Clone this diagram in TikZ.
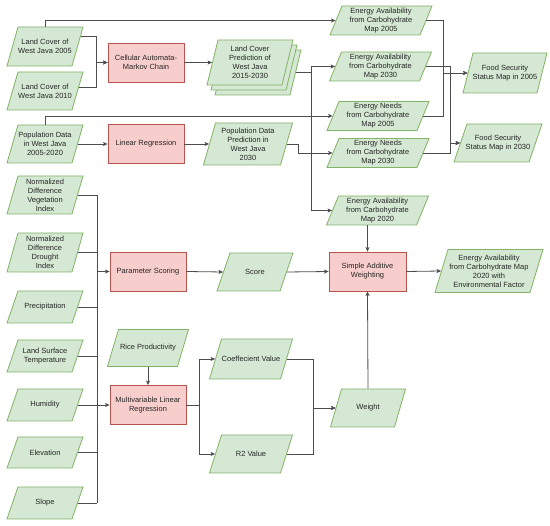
\documentclass[tikz,border=0pt]{standalone}
\usepackage{fontspec}
\setmainfont{Liberation Sans}
\usetikzlibrary{arrows.meta,calc}
\definecolor{gfill}{HTML}{D5E8D4}
\definecolor{gline}{HTML}{82B366}
\definecolor{rfill}{HTML}{F8CECC}
\definecolor{rline}{HTML}{B85450}
\definecolor{lcol}{HTML}{4D4D4D}
\definecolor{tcol}{HTML}{262626}
\tikzset{
  base/.style={font=\fontsize{7.5}{9}\selectfont, text=tcol, align=center, line width=0.8pt},
  pshape/.style={fill=gfill, draw=gline, line width=0.8pt, line join=miter},
  ptext/.style={base, rectangle, inner sep=0pt},
  proc/.style={base, rectangle, fill=rfill, draw=rline, minimum width=76pt, minimum height=39pt, inner sep=1pt},
  ln/.style={draw=lcol, line width=0.8pt},
  arr/.style={ln, -{Stealth[length=4.5pt,width=4pt,inset=1pt]}}
}
% #1 slant, #2 name, #3 cx, #4 cy, #5 width, #6 height, #7 text
\newcommand\parashape[7][11]{%
  \filldraw[pshape] ({#3-#5/2+#1},{#4-#6/2}) -- ({#3+#5/2},{#4-#6/2}) -- ({#3+#5/2-#1},{#4+#6/2}) -- ({#3-#5/2},{#4+#6/2}) -- cycle;
  \node[ptext, minimum width={#5pt-#1pt}, minimum height=#6pt] (#2) at (#3,#4) {#7};
}
\begin{document}
\begin{tikzpicture}[x=1pt,y=-1pt]
\useasboundingbox[fill=white] (0,0) rectangle (550,526);

% left inputs
\parashape{lc05}{45}{46.5}{76}{39}{Land Cover of\\West Java 2005}
\parashape{lc10}{45}{91}{76}{38}{Land Cover of\\West Java 2010}
\parashape{pop}{45}{144}{76}{38}{Population Data\\in West Java\\2005-2020}
\parashape{ndvi}{45}{195}{76}{38}{Normalized\\Difference\\Vegetation\\Index}
\parashape{nddi}{45}{252.5}{76}{39}{Normalized\\Difference\\Drought\\Index}
\parashape{prec}{45}{307}{76}{32}{Precipitation}
\parashape{lst}{45}{356}{76}{32}{Land Surface\\Temperature}
\parashape{hum}{45}{405}{76}{32}{Humidity}
\parashape{elev}{45}{452.5}{76}{31}{Elevation}
\parashape{slope}{45}{503}{76}{32}{Slope}

% processes
\node[proc] (ca) at (146,62.5) {Cellular Automata-\\Markov Chain};
\node[proc] (lr) at (146,144) {Linear Regression};
\node[proc] (ps) at (148,271.5) {Parameter Scoring};
\node[proc] (mlr) at (148,405) {Multivariable Linear\\Regression};
\node[proc,minimum width=77pt] (saw) at (367.5,271.5) {Simple Additive\\Weighting};

% middle column
\parashape{lcp3}{258}{72.5}{86}{45}{}
\parashape{lcp2}{254}{67.5}{86}{45}{}
\parashape{lcp}{250}{62.5}{86}{45}{Land Cover\\Prediction of\\West Java\\2015-2030}
\parashape[12]{pdp}{248}{144}{89}{42}{Population Data\\Prediction in\\West Java\\2030}
\parashape[13]{score}{255}{272}{76}{38}{Score}
\parashape{rice}{148}{348}{81}{37}{Rice Productivity}
\parashape[12]{coef}{251}{359}{83}{40}{Coeffecient Value}
\parashape[12]{r2}{251}{454}{83}{38}{R2 Value}
\parashape{weight}{368}{408}{75}{38}{Weight}

% right column
\parashape[12]{ea05}{381}{20.5}{102}{29}{Energy Availability\\from Carbohydrate\\Map 2005}
\parashape[12]{ea30}{380.5}{66.5}{102}{29}{Energy Availability\\from Carbohydrate\\Map 2030}
\parashape[12]{en05}{378}{116}{102}{29}{Energy Needs\\from Carbohydrate\\Map 2005}
\parashape[12]{en30}{378}{153}{102}{29}{Energy Needs\\from Carbohydrate\\Map 2030}
\parashape[12]{ea20}{377.5}{210.5}{102}{29}{Energy Availability\\from Carbohydrate\\Map 2020}
\parashape[10]{fs05}{505}{73}{84}{40}{Food Security\\Status Map in 2005}
\parashape[13]{fs30}{498}{143}{88}{38}{Food Security\\Status Map in 2030}
\parashape[13]{fin}{489}{271}{108}{43}{Energy Availability\\from Carbohydrate Map\\2020 with\\Environmental Factor}

% bus coordinates
\coordinate (b0) at (96,0);
\coordinate (b1) at (311,0);
\coordinate (b2) at (298,0);
\coordinate (b3) at (443,0);
\coordinate (b4) at (450,0);
\coordinate (b5) at (97,0);
\coordinate (b6) at (199,0);
\coordinate (b7) at (313,0);
\coordinate (lc05o) at ($(lc05.north east)!0.25!(lc05.south east)+(2.75,0)$);
\coordinate (lc10o) at ($(lc10.north east)!0.42!(lc10.south east)+(0.9,0)$);

% connectors
\draw[arr] (lc05o) -- (lc05o -| b0) |- (ca.west);
\draw[arr] (lc10o) -- (lc10o -| b0) |- (ca.west);
\draw[arr] (ca.east) -- (lcp.west);
\draw[arr] (lc05.north) |- (ea05.west);
\draw[arr] (pop.north) |- (en05.west);
\draw[arr] (pop.east) -- (lr.west);
\draw[arr] (lr.east) -- (pdp.west);
\draw[arr] (lcp3.east) -- (lcp3.east -| b1) |- (ea30.west);
\draw[arr] (lcp3.east -| b1) |- (ea20.west);
\draw[arr] (pdp.east) -- (pdp.east -| b2) |- (en30.west);
\draw[arr] (ea05.east) -- (ea05.east -| b3) |- (fs05.west);
\draw[arr] (en05.east) -- (en05.east -| b3) |- (fs05.west);
\draw[arr] (ea30.east) -- (ea30.east -| b4) |- (fs30.west);
\draw[arr] (en30.east) -- (en30.east -| b4) |- (fs30.west);

\foreach \n in {ndvi,nddi,prec,lst,hum,elev,slope}
  \draw[ln] (\n.east) -- (\n.east -| b5);
\draw[ln] (ndvi.east -| b5) -- (slope.east -| b5);
\draw[arr] (ps.west -| b5) -- (ps.west);
\draw[arr] (mlr.west -| b5) -- (mlr.west);

\draw[arr] (ps.east) -- (score.west);
\draw[arr] (score.east) -- (saw.west);
\draw[arr] (ea20.south -| saw.north) -- (saw.north);
\draw[arr] (saw.east) -- (fin.west);
\draw[arr] (rice.south) -- (mlr.north);
\draw[arr] (mlr.east) -- (mlr.east -| b6) |- (coef.west);
\draw[arr] (mlr.east -| b6) |- (r2.west);
\draw[arr] (coef.east) -- (coef.east -| b7) |- (weight.west);
\draw[arr] (r2.east) -- (r2.east -| b7) |- (weight.west);
\draw[arr] (weight.north) -- (saw.south);
\end{tikzpicture}
\end{document}
